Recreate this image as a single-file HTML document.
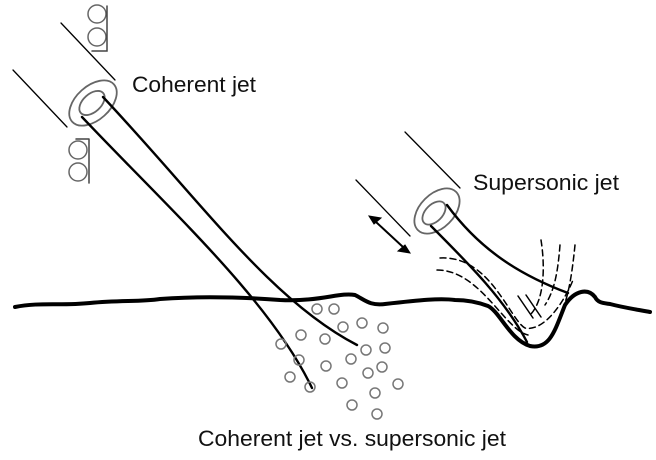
<!DOCTYPE html>
<html><head><style>body{margin:0;background:#fff}svg{display:block}</style></head><body>
<svg width="656" height="460" viewBox="0 0 656 460" xmlns="http://www.w3.org/2000/svg" font-family="Liberation Sans, sans-serif">
<g stroke="#000" fill="none" stroke-linecap="round">
<line x1="61" y1="23" x2="115" y2="80" stroke-width="1.3"/>
<line x1="13" y1="70" x2="67" y2="127" stroke-width="1.3"/>
<ellipse cx="93" cy="103" rx="28" ry="17" transform="rotate(-42 93 103)" stroke="#666" stroke-width="1.8" fill="#fff"/>
<ellipse cx="92" cy="103" rx="15" ry="9" transform="rotate(-42 92 103)" stroke="#666" stroke-width="1.8"/>
<g stroke="#666" stroke-width="1.5"><circle cx="97" cy="14" r="9"/><circle cx="97" cy="37" r="9"/><circle cx="78" cy="150" r="9"/><circle cx="78" cy="172" r="9"/></g>
<path d="M107 6 V51 H92 M89 139 V183 M89 139 H76" stroke="#444" stroke-width="1.5"/>
<path d="M82 117 C170 210 270 300 312 388" stroke-width="2.4"/>
<path d="M103 97 C200 200 270 300 357 345" stroke-width="2.4"/>
<line x1="405" y1="132" x2="460" y2="188" stroke-width="1.3"/>
<line x1="356" y1="180" x2="410" y2="236" stroke-width="1.3"/>
<ellipse cx="437" cy="211" rx="27" ry="17" transform="rotate(-45 437 211)" stroke="#666" stroke-width="1.8" fill="#fff"/>
<ellipse cx="434" cy="213" rx="14" ry="8.5" transform="rotate(-45 434 213)" stroke="#666" stroke-width="1.8"/>
<path d="M431 226 C470 265 505 300 527 342" stroke-width="2.4"/>
<path d="M447 205 C480 250 520 275 568 293" stroke-width="2.4"/>
<line x1="376" y1="222" x2="403" y2="247" stroke-width="2"/>
<path d="M369 216 l12 2 l-7 6 z M410 253 l-12 -2 l7 -6 z" fill="#000"/>
<g stroke-width="1.5" stroke-dasharray="6 4">
<path d="M440 258 C490 255 510 320 525 328 C545 332 565 300 573 280"/>
<path d="M437 270 C480 270 505 330 528 335"/>
<path d="M541 240 C545 265 545 300 530 315"/>
<path d="M560 245 C558 270 555 290 545 305"/>
<path d="M575 245 C572 275 568 300 560 315"/>
</g>
<path d="M518 296 L533 318 M526 295 L541 317" stroke-width="1.5"/>
<path d="M15 307 C40 302 60 306 90 303 C120 300 140 302 160 299 C200 296 240 297 280 300 C320 302 340 292 355 295 C365 300 370 306 385 304 C420 300 440 298 455 300 C470 300 480 303 488 306 C500 312 510 340 530 346 C550 350 555 330 565 305 C575 290 588 288 595 297 C598 303 603 303 610 304 C625 308 640 310 650 312" stroke-width="4"/>
<g stroke="#777" stroke-width="1.5">
<circle cx="317" cy="309" r="5"/><circle cx="334" cy="309" r="5"/><circle cx="343" cy="327" r="5"/><circle cx="362" cy="323" r="5"/><circle cx="383" cy="328" r="5"/><circle cx="301" cy="335" r="5"/><circle cx="325" cy="339" r="5"/><circle cx="281" cy="344" r="5"/><circle cx="366" cy="350" r="5"/><circle cx="385" cy="348" r="5"/><circle cx="299" cy="360" r="5"/><circle cx="351" cy="359" r="5"/><circle cx="326" cy="366" r="5"/><circle cx="382" cy="367" r="5"/><circle cx="290" cy="377" r="5"/><circle cx="310" cy="387" r="5"/><circle cx="342" cy="383" r="5"/><circle cx="368" cy="373" r="5"/><circle cx="398" cy="384" r="5"/><circle cx="375" cy="393" r="5"/><circle cx="352" cy="405" r="5"/><circle cx="377" cy="414" r="5"/>
</g>
</g>
<g fill="#111" font-size="22">
<text x="132" y="92" textLength="124" lengthAdjust="spacingAndGlyphs">Coherent jet</text>
<text x="473" y="190" textLength="146" lengthAdjust="spacingAndGlyphs">Supersonic jet</text>
<text x="198" y="446" textLength="308" lengthAdjust="spacingAndGlyphs">Coherent jet vs. supersonic jet</text>
</g>
</svg>
</body></html>
